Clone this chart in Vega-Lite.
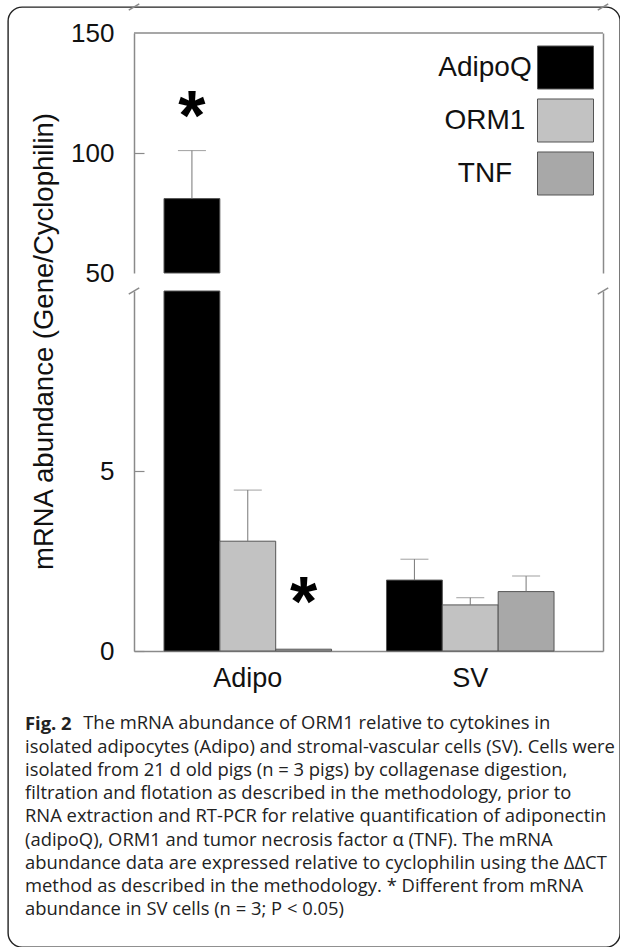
{
  "$schema": "https://vega.github.io/schema/vega-lite/v6.json",
  "width": 612,
  "height": 940,
  "autosize": {"type": "none"},
  "padding": {"left": 8, "top": 7, "right": 0, "bottom": 0},
  "background": "white",
  "config": {
    "view": {"stroke": "#222", "strokeWidth": 1.4, "cornerRadius": 14},
    "font": "Liberation Sans",
    "axis": {"labelFont": "Liberation Sans", "titleFont": "Liberation Sans", "labelFontSize": 26, "labelColor": "#111", "domainColor": "#8a8a8a", "domainWidth": 1.5, "tickColor": "#8a8a8a", "tickWidth": 1.2, "grid": false}
  },
  "datasets": {
    "bars": [
      {"group": "Adipo", "gene": "AdipoQ", "value": 81, "upper": 101, "sig": "*"},
      {"group": "Adipo", "gene": "ORM1", "value": 3.05, "upper": 4.47, "sig": ""},
      {"group": "Adipo", "gene": "TNF", "value": 0.05, "upper": null, "sig": "*"},
      {"group": "SV", "gene": "AdipoQ", "value": 1.97, "upper": 2.55, "sig": ""},
      {"group": "SV", "gene": "ORM1", "value": 1.28, "upper": 1.48, "sig": ""},
      {"group": "SV", "gene": "TNF", "value": 1.65, "upper": 2.08, "sig": ""}
    ],
    "edges": [
      {"side": "left"},
      {"side": "right"}
    ]
  },
  "data": {"name": "bars"},
  "title": {
    "text": "Fig. 2",
    "subtitle": [
      "\u200b\u2003\u2003\u2003\u2009The mRNA abundance of ORM1 relative to cytokines in",
      "isolated adipocytes (Adipo) and stromal-vascular cells (SV). Cells were",
      "isolated from 21 d old pigs (n = 3 pigs) by collagenase digestion,",
      "filtration and flotation as described in the methodology, prior to",
      "RNA extraction and RT-PCR for relative quantification of adiponectin",
      "(adipoQ), ORM1 and tumor necrosis factor \u03b1 (TNF). The mRNA",
      "abundance data are expressed relative to cyclophilin using the \u0394\u0394CT",
      "method as described in the methodology. * Different from mRNA",
      "abundance in SV cells (n = 3; P < 0.05)"
    ],
    "orient": "bottom",
    "anchor": "start",
    "frame": "group",
    "offset": -232,
    "dx": 17,
    "font": "Open Sans",
    "fontSize": 18.4,
    "fontWeight": "bold",
    "color": "#222",
    "subtitleFont": "Open Sans",
    "subtitleFontSize": 18.4,
    "subtitleColor": "#222",
    "subtitleLineHeight": 23.25,
    "subtitlePadding": -19
  },
  "layer": [
    {
      "layer": [
        {
          "mark": {"type": "bar", "stroke": "#555", "strokeWidth": 1},
          "encoding": {
            "x": {"field": "group", "type": "nominal",
              "scale": {"domain": ["Adipo", "SV"], "range": [126, 595], "paddingInner": 0.247, "paddingOuter": 0.1775, "align": 0.38},
              "axis": {"orient": "bottom", "offset": -296, "title": null, "ticks": false, "labels": true, "labelAngle": 0, "labelPadding": 14, "labelFontSize": 27, "labelColor": "#111"}},
            "xOffset": {"field": "gene", "type": "nominal", "scale": {"domain": ["AdipoQ", "ORM1", "TNF"], "paddingInner": 0, "paddingOuter": 0}},
            "y": {"field": "value", "type": "quantitative",
              "scale": {"domain": [0, 10], "range": [644, 284], "clamp": true, "nice": false, "zero": true},
              "axis": {"orient": "left", "offset": -126, "values": [0, 5], "tickSize": -10, "labelPadding": 30,
                "title": "mRNA abundance (Gene/Cyclophilin)", "titleFontSize": 27.5, "titleFontWeight": "normal", "titleColor": "#111",
                "titleX": -90, "titleY": 334, "titleAngle": -90, "titleBaseline": "middle", "titleAlign": "center"}},
            "fill": {"field": "gene", "type": "nominal",
              "scale": {"domain": ["AdipoQ", "ORM1", "TNF"], "range": ["#000000", "#c2c2c2", "#a8a8a8"]},
              "legend": {"orient": "none", "legendX": 529, "legendY": 32, "title": null, "padding": 0,
                "symbolType": "M-1,-0.768H1V0.768H-1Z", "symbolSize": 3136, "symbolStrokeColor": "#555", "symbolStrokeWidth": 1, "symbolOpacity": 1,
                "labelFont": "Liberation Sans", "labelFontSize": 28, "labelColor": "#111", "labelAlign": "center", "labelOffset": -109, "rowPadding": 0}}
          }
        },
        {
          "transform": [{"filter": "isValid(datum.upper) && datum.upper < 10"}],
          "mark": {"type": "rule", "color": "#777", "strokeWidth": 1},
          "encoding": {
            "x": {"field": "group", "type": "nominal"},
            "xOffset": {"field": "gene", "type": "nominal"},
            "y": {"field": "value", "type": "quantitative",
              "axis": {"orient": "right", "offset": -17, "labels": false, "ticks": false, "title": null}},
            "y2": {"field": "upper"}
          }
        },
        {
          "transform": [{"filter": "isValid(datum.upper) && datum.upper < 10"}],
          "mark": {"type": "tick", "color": "#777", "size": 28, "thickness": 1},
          "encoding": {
            "x": {"field": "group", "type": "nominal"},
            "xOffset": {"field": "gene", "type": "nominal"},
            "y": {"field": "upper", "type": "quantitative", "axis": null}
          }
        },
        {
          "transform": [{"filter": "datum.sig == '*' && datum.value < 10"}],
          "mark": {"type": "text", "font": "Liberation Sans", "fontWeight": "bold", "fontSize": 70, "baseline": "alphabetic", "dy": -23, "color": "#000"},
          "encoding": {
            "x": {"field": "group", "type": "nominal"},
            "xOffset": {"field": "gene", "type": "nominal"},
            "y": {"field": "value", "type": "quantitative", "axis": null},
            "text": {"field": "sig"}
          }
        }
      ],
      "resolve": {"axis": {"y": "independent"}}
    },
    {
      "layer": [
        {
          "transform": [{"filter": "datum.value > 50"}],
          "mark": {"type": "bar", "stroke": "#555", "strokeWidth": 1},
          "encoding": {
            "x": {"field": "group", "type": "nominal",
              "scale": {"domain": ["Adipo", "SV"], "range": [126, 595], "paddingInner": 0.247, "paddingOuter": 0.1775, "align": 0.38},
              "axis": null},
            "xOffset": {"field": "gene", "type": "nominal", "scale": {"domain": ["AdipoQ", "ORM1", "TNF"], "paddingInner": 0, "paddingOuter": 0}},
            "y": {"field": "value", "type": "quantitative",
              "scale": {"domain": [50, 150], "range": [266, 26], "clamp": true, "nice": false, "zero": false},
              "axis": {"orient": "left", "offset": -126, "values": [50, 100, 150], "tickSize": -10, "labelPadding": 30, "title": null,
                "tickOpacity": {"condition": {"test": "datum.value == 50 || datum.value == 150", "value": 0}, "value": 1}}},
            "y2": {"datum": 50},
            "fill": {"field": "gene", "type": "nominal"}
          }
        },
        {
          "transform": [{"filter": "isValid(datum.upper) && datum.upper > 50"}],
          "mark": {"type": "rule", "color": "#777", "strokeWidth": 1},
          "encoding": {
            "x": {"field": "group", "type": "nominal", "axis": null},
            "xOffset": {"field": "gene", "type": "nominal"},
            "y": {"field": "value", "type": "quantitative",
              "axis": {"orient": "right", "offset": -17, "labels": false, "ticks": false, "title": null}},
            "y2": {"field": "upper"}
          }
        },
        {
          "transform": [{"filter": "isValid(datum.upper) && datum.upper > 50"}],
          "mark": {"type": "tick", "color": "#777", "size": 28, "thickness": 1},
          "encoding": {
            "x": {"field": "group", "type": "nominal", "axis": null},
            "xOffset": {"field": "gene", "type": "nominal"},
            "y": {"field": "upper", "type": "quantitative", "axis": null}
          }
        },
        {
          "transform": [{"filter": "datum.sig == '*' && datum.value > 50"}],
          "mark": {"type": "text", "font": "Liberation Sans", "fontWeight": "bold", "fontSize": 70, "baseline": "alphabetic", "dy": -11, "color": "#000"},
          "encoding": {
            "x": {"field": "group", "type": "nominal", "axis": null},
            "xOffset": {"field": "gene", "type": "nominal"},
            "y": {"field": "upper", "type": "quantitative", "axis": null},
            "text": {"field": "sig"}
          }
        }
      ],
      "resolve": {"axis": {"y": "independent"}}
    },
    {
      "data": {"name": "edges"},
      "layer": [
        {
          "mark": {"type": "line", "color": "#8a8a8a", "strokeWidth": 1.5},
          "encoding": {
            "x": {"field": "side", "type": "nominal",
              "scale": {"type": "point", "domain": ["left", "right"], "range": [126, 595], "padding": 0},
              "axis": null},
            "y": {"datum": 150, "type": "quantitative",
              "scale": {"domain": [50, 150], "range": [266, 26], "nice": false, "zero": false},
              "axis": null}
          }
        },
        {
          "mark": {"type": "point", "shape": "M-1,0.6L1,-0.6", "size": 110, "filled": false, "color": "#8a8a8a", "strokeWidth": 1.5, "opacity": 1},
          "encoding": {
            "x": {"field": "side", "type": "nominal", "axis": null},
            "y": {"datum": 50, "type": "quantitative", "axis": null}
          }
        },
        {
          "mark": {"type": "point", "shape": "M-1,0.6L1,-0.6", "size": 110, "filled": false, "color": "#8a8a8a", "strokeWidth": 1.5, "opacity": 1},
          "encoding": {
            "x": {"field": "side", "type": "nominal", "axis": null},
            "y": {"datum": 10, "type": "quantitative",
              "scale": {"domain": [0, 10], "range": [644, 284], "nice": false},
              "axis": null}
          }
        }
      ],
      "resolve": {"scale": {"y": "independent"}}
    }
  ],
  "resolve": {"scale": {"x": "independent", "y": "independent"}, "axis": {"x": "independent", "y": "independent"}}
}
